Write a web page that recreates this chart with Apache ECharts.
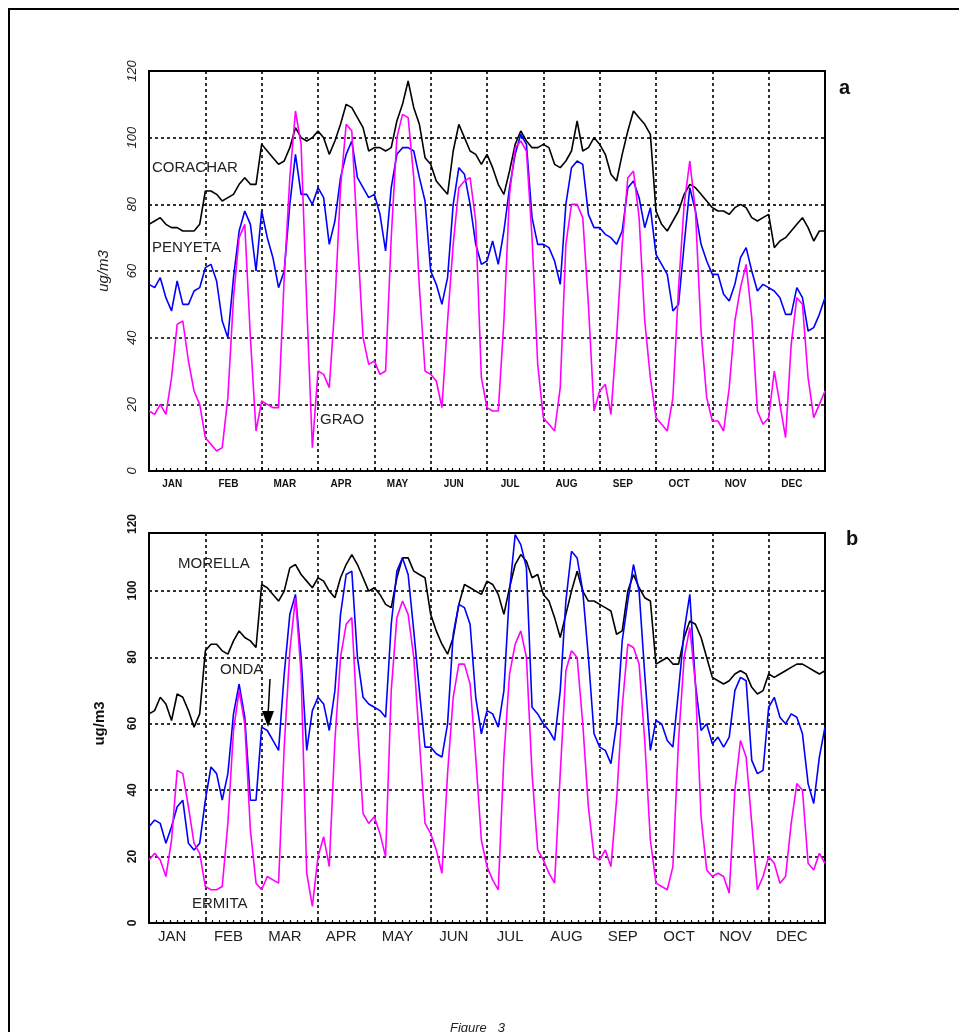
<!DOCTYPE html>
<html>
<head>
<meta charset="utf-8">
<script src="https://cdn.jsdelivr.net/npm/echarts/dist/echarts.min.js"></script>
<style>
  html, body { margin: 0; padding: 0; background: #fff; }
  #ozoneChart { width: 959px; height: 1032px; }
</style>
</head>
<body>
<div id="ozoneChart"></div>
<script>
// month names (x axis), one value every 1/10 month, JAN..DEC + end point
var months = ['JAN', 'FEB', 'MAR', 'APR', 'MAY', 'JUN', 'JUL', 'AUG', 'SEP', 'OCT', 'NOV', 'DEC']

// panel a
var corachar = [
  74, 75, 76, 74, 73, 73, 72, 72, 72, 74,
  84, 84, 83, 81, 82, 83, 86, 88, 86, 86,
  98, 96, 94, 92, 93, 97, 103, 100, 99, 100,
  102, 100, 95, 99, 104, 110, 109, 106, 103, 96,
  97, 97, 96, 97, 105, 110, 117, 109, 104, 94,
  92, 87, 85, 83, 96, 104, 100, 96, 95, 92,
  95, 91, 86, 83, 90, 98, 102, 99, 97, 97,
  98, 97, 92, 91, 93, 96, 105, 96, 97, 100,
  98, 95, 89, 87, 95, 102, 108, 106, 104, 101,
  78, 74, 72, 75, 78, 83, 86, 85, 83, 81,
  79, 78, 78, 77, 79, 80, 79, 76, 75, 76,
  77, 67, 69, 70, 72, 74, 76, 73, 69, 72,
  72
]
var penyeta = [
  56, 55, 58, 52, 48, 57, 50, 50, 54, 55,
  61, 62, 57, 45, 40, 58, 72, 78, 74, 60,
  78, 70, 64, 55, 60, 80, 95, 83, 83, 80,
  85, 82, 68, 75, 88, 95, 99, 88, 85, 82,
  83, 77, 66, 85, 95, 97, 97, 96, 88, 81,
  60, 56, 50, 58, 80, 91, 89, 80, 68, 62,
  63, 69, 62, 72, 85, 95, 101, 98, 76, 68,
  68, 67, 63, 56, 80, 91, 93, 92, 77, 73,
  73, 71, 70, 68, 72, 85, 87, 82, 73, 79,
  65, 62, 59, 48, 50, 68, 85, 78, 68, 63,
  59, 59, 53, 51, 56, 64, 67, 60, 54, 56,
  55, 54, 52, 47, 47, 55, 52, 42, 43, 47,
  52
]
var grao = [
  18, 17, 20, 17, 28, 44, 45, 33, 24, 20,
  10, 8, 6, 7, 22, 52, 70, 74, 40, 12,
  21, 20, 19, 19, 58, 88, 108, 98, 50, 7,
  30, 29, 25, 50, 85, 104, 102, 70, 40, 32,
  33, 29, 30, 70, 100, 107, 106, 88, 55, 30,
  29, 27, 19, 45, 68, 85, 87, 88, 75, 28,
  19, 18, 18, 45, 83, 97, 99, 96, 70, 32,
  16, 14, 12, 25, 68, 80, 80, 76, 50, 18,
  24, 26, 17, 40, 68, 88, 90, 76, 45, 28,
  16, 14, 12, 22, 55, 80, 93, 78, 42, 22,
  15, 15, 12, 25, 45, 55, 62, 46, 18, 14,
  16, 30, 20, 10, 38, 52, 50, 28, 16, 20,
  24
]

// panel b
var morella = [
  63, 64, 68, 66, 61, 69, 68, 64, 59, 63,
  82, 84, 84, 82, 81, 85, 88, 86, 85, 83,
  102, 101, 99, 97, 100, 107, 108, 105, 103, 101,
  104, 103, 100, 98, 104, 108, 111, 108, 104, 100,
  101, 99, 96, 95, 104, 110, 110, 106, 105, 104,
  93, 88, 84, 81, 86, 96, 102, 101, 100, 99,
  103, 102, 99, 93, 101, 108, 111, 109, 104, 105,
  99, 97, 92, 86, 93, 100, 106, 100, 97, 97,
  96, 95, 94, 87, 88, 100, 105, 101, 98, 97,
  78, 79, 80, 78, 78, 86, 91, 90, 86, 80,
  74, 73, 72, 73, 75, 76, 75, 71, 69, 70,
  75, 74, 75, 76, 77, 78, 78, 77, 76, 75,
  76
]
var onda = [
  29, 31, 30, 24, 29, 35, 37, 24, 22, 24,
  37, 47, 45, 37, 45, 63, 72, 62, 37, 37,
  59, 58, 55, 52, 75, 93, 99, 80, 52, 64,
  68, 66, 58, 70, 93, 105, 106, 80, 68, 66,
  65, 64, 62, 90, 106, 110, 105, 88, 70, 53,
  53, 51, 50, 60, 87, 96, 95, 90, 68, 57,
  64, 63, 59, 70, 100, 117, 114, 107, 65, 63,
  60, 58, 55, 70, 97, 112, 110, 100, 80, 57,
  53, 52, 48, 60, 85, 97, 108, 100, 75, 52,
  61, 60, 55, 53, 70, 88, 99, 72, 58, 60,
  54, 56, 53, 56, 70, 74, 73, 49, 45, 46,
  65, 68, 62, 60, 63, 62, 57, 42, 36, 50,
  59
]
var ermita = [
  19, 21, 19, 14, 25, 46, 45, 35, 24, 21,
  11, 10, 10, 11, 30, 58, 70, 60, 28, 12,
  10, 14, 13, 12, 53, 82, 98, 75, 15, 5,
  20, 26, 17, 55, 80, 90, 92, 60, 33, 30,
  32, 27, 20, 70, 92, 97, 93, 80, 55, 30,
  27, 22, 15, 45, 68, 78, 78, 72, 50, 25,
  17, 13, 10, 50, 75, 84, 88, 80, 45, 22,
  19, 15, 12, 45, 76, 82, 80, 60, 35, 20,
  19, 22, 17, 37, 65, 84, 83, 78, 55, 25,
  12, 11, 10, 17, 55, 80, 89, 72, 32, 16,
  14, 15, 14, 9, 40, 55, 50, 30, 10, 14,
  20, 18, 12, 14, 30, 42, 40, 18, 16, 21,
  18
]

var FONT = '"Liberation Sans", Arial, sans-serif'

function toPairs (arr) {
  return arr.map(function (v, i) { return [i / 10, v] })
}

function dotted () {
  return { show: true, lineStyle: { color: '#000', type: [3, 3], width: 1.6 } }
}

function timeAxis (gridIndex) {
  return {
    type: 'value',
    gridIndex: gridIndex,
    position: 'bottom',
    min: 0,
    max: 12,
    interval: 1,
    axisLine: { show: true, lineStyle: { color: '#000', width: 2 } },
    axisTick: { show: true, inside: true, length: 4, lineStyle: { color: '#000', width: 1.5 } },
    minorTick: { show: true, splitNumber: 8, length: 3, lineStyle: { color: '#000', width: 1.2 } },
    axisLabel: { show: false },
    splitLine: dotted()
  }
}

function monthAxis (gridIndex, label) {
  return {
    type: 'category',
    gridIndex: gridIndex,
    position: 'bottom',
    data: months,
    boundaryGap: true,
    axisLine: { show: false },
    axisTick: { show: false },
    splitLine: { show: false },
    axisLabel: label
  }
}

function line (name, data, color, xi, yi) {
  return {
    name: name,
    type: 'line',
    xAxisIndex: xi,
    yAxisIndex: yi,
    data: toPairs(data),
    showSymbol: false,
    symbol: 'none',
    smooth: false,
    clip: true,
    lineStyle: { color: color, width: 1.6 },
    itemStyle: { color: color }
  }
}

function label (text, x, y, withBg) {
  return {
    type: 'text',
    x: x,
    y: y,
    z: 100,
    style: {
      text: text,
      fill: '#222',
      font: '15px ' + FONT,
      verticalAlign: 'middle',
      backgroundColor: withBg ? '#fff' : null,
      padding: withBg ? [1, 2, 1, 2] : 0
    }
  }
}

var chart = echarts.init(document.getElementById('ozoneChart'))
chart.setOption({
  animation: false,
  backgroundColor: '#fff',
  textStyle: { fontFamily: FONT },
  grid: [
    { left: 149, top: 71, width: 676, height: 400, show: true, borderColor: '#000', borderWidth: 2 },
    { left: 149, top: 533, width: 676, height: 390, show: true, borderColor: '#000', borderWidth: 2 },
    // panel b labels run to 120 a little above the frame
    { left: 149, top: 524, width: 676, height: 399, show: false }
  ],
  xAxis: [
    timeAxis(0),
    monthAxis(0, { fontSize: 10, fontWeight: 'bold', color: '#111', margin: 8, padding: [0, 10, 0, 0] }),
    timeAxis(1),
    monthAxis(1, { fontSize: 15, color: '#222', margin: 6, padding: [0, 10, 0, 0] }),
    { type: 'value', gridIndex: 2, min: 0, max: 12, show: false }
  ],
  yAxis: [
    {
      type: 'value',
      gridIndex: 0,
      min: 0,
      max: 120,
      interval: 20,
      name: 'ug/m3',
      nameLocation: 'middle',
      nameRotate: 90,
      nameGap: 38,
      nameTextStyle: { fontSize: 15, fontStyle: 'italic', color: '#222' },
      axisLine: { show: true, lineStyle: { color: '#000', width: 2 } },
      axisTick: { show: false },
      axisLabel: { rotate: 90, fontSize: 13, fontStyle: 'italic', color: '#222', margin: 10 },
      splitLine: dotted()
    },
    {
      type: 'value',
      gridIndex: 1,
      min: 0,
      max: 117.5,
      interval: 20,
      axisLine: { show: true, lineStyle: { color: '#000', width: 2 } },
      axisTick: { show: false },
      axisLabel: { show: false },
      splitLine: dotted()
    },
    {
      type: 'value',
      gridIndex: 2,
      min: 0,
      max: 120,
      interval: 20,
      name: 'ug/m3',
      nameLocation: 'middle',
      nameRotate: 90,
      nameGap: 42,
      nameTextStyle: { fontSize: 15, fontWeight: 'bold', color: '#111' },
      axisLine: { show: false },
      axisTick: { show: false },
      axisLabel: { rotate: 90, fontSize: 12, fontWeight: 'bold', color: '#111', margin: 10 },
      splitLine: { show: false }
    }
  ],
  series: [
    line('CORACHAR', corachar, '#000000', 0, 0),
    line('PENYETA', penyeta, '#0000ff', 0, 0),
    line('GRAO', grao, '#ff00ff', 0, 0),
    line('MORELLA', morella, '#000000', 2, 1),
    line('ONDA', onda, '#0000ff', 2, 1),
    line('ERMITA', ermita, '#ff00ff', 2, 1)
  ],
  graphic: [
    // page frame (runs off the right and bottom edge)
    { type: 'rect', shape: { x: 9, y: 9, width: 1000, height: 1100 }, style: { fill: null, stroke: '#000', lineWidth: 2 } },
    label('CORACHAR', 152, 168, false),
    label('PENYETA', 150, 248, true),
    label('GRAO', 318, 420, true),
    label('MORELLA', 178, 564, false),
    label('ONDA', 220, 670, false),
    label('ERMITA', 192, 904, false),
    // arrow ONDA -> blue line
    { type: 'line', z: 100, shape: { x1: 270, y1: 679, x2: 268, y2: 716 }, style: { stroke: '#000', lineWidth: 1.5 } },
    { type: 'polygon', z: 100, shape: { points: [[262, 711], [274, 711], [268, 727]] }, style: { fill: '#000' } },
    { type: 'text', x: 839, y: 88, style: { text: 'a', font: 'bold 20px ' + FONT, fill: '#111', verticalAlign: 'middle' } },
    { type: 'text', x: 846, y: 539, style: { text: 'b', font: 'bold 20px ' + FONT, fill: '#111', verticalAlign: 'middle' } },
    { type: 'text', x: 450, y: 1028, style: { text: 'Figure   3', font: 'italic 13px ' + FONT, fill: '#222', verticalAlign: 'middle' } }
  ]
})
</script>
</body>
</html>
